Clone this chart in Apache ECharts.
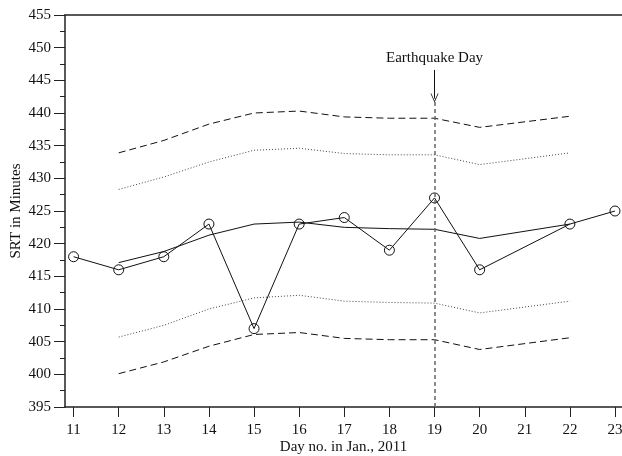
<!DOCTYPE html>
<html>
<head>
<meta charset="utf-8">
<script src="https://cdn.jsdelivr.net/npm/echarts@6/dist/echarts.min.js"></script>
<style>html,body{margin:0;padding:0;background:#fff}#c{width:622px;height:456px}</style>
</head>
<body>
<div id="c"></div>
<script>
var days = [11, 12, 13, 14, 15, 16, 17, 18, 19, 20, 22, 23];
var srt = [418, 416, 418, 423, 407, 423, 424, 419, 427, 416, 423, 425];
var bandDays = [12, 13, 14, 15, 16, 17, 18, 19, 20, 22];
var meanLine = [417.1, 418.8, 421.3, 423.0, 423.3, 422.5, 422.3, 422.2, 420.8, 423.0];
var upperDotted = [428.3, 430.2, 432.5, 434.3, 434.6, 433.8, 433.6, 433.6, 432.1, 433.9];
var lowerDotted = [405.7, 407.5, 410.0, 411.7, 412.1, 411.2, 411.0, 410.9, 409.4, 411.2];
var upperDashed = [433.9, 435.8, 438.3, 440.0, 440.3, 439.4, 439.2, 439.2, 437.8, 439.5];
var lowerDashed = [400.1, 401.9, 404.3, 406.1, 406.4, 405.5, 405.3, 405.3, 403.8, 405.6];
var xTicks = [11, 12, 13, 14, 15, 16, 17, 18, 19, 20, 21, 22, 23];
var quakeDay = 19;
var quakeLabel = 'Earthquake Day';

function pairs(xs, ys) { return xs.map(function (x, i) { return [x, ys[i]]; }); }

var font = 'Liberation Serif';
var chart = echarts.init(document.getElementById('c'), null, {renderer: 'canvas'});
chart.setOption({
  animation: false,
  backgroundColor: '#fff',
  grid: {left: 65, right: 0, top: 15, bottom: 49, outerBoundsMode: 'none', containLabel: false, show: false},
  xAxis: [{
    type: 'value', min: 10.81, max: 23.155,
    name: 'Day no. in Jan., 2011', nameLocation: 'middle', nameGap: 33, nameMoveOverlap: false,
    nameTextStyle: {fontFamily: font, fontSize: 15, color: '#111'},
    axisLine: {show: true, lineStyle: {color: '#222', width: 1.5}},
    axisTick: {show: true, length: 10, customValues: xTicks, lineStyle: {color: '#222', width: 1}},
    axisLabel: {customValues: xTicks, margin: 16, fontFamily: font, fontSize: 15, color: '#111'},
    splitLine: {show: false}
  }, {
    type: 'value', position: 'top', min: 10.81, max: 23.155,
    axisLine: {show: true, lineStyle: {color: '#222', width: 1.5}},
    axisTick: {show: false}, axisLabel: {show: false}, splitLine: {show: false}
  }],
  yAxis: {
    type: 'value', min: 395, max: 455, interval: 5,
    name: 'SRT in Minutes', nameLocation: 'middle', nameGap: 41, nameMoveOverlap: false,
    nameTextStyle: {fontFamily: font, fontSize: 15, color: '#111'},
    axisLine: {show: true, lineStyle: {color: '#222', width: 1.5}},
    axisTick: {show: true, length: 11, lineStyle: {color: '#222', width: 1}},
    minorTick: {show: true, splitNumber: 2, length: 5, lineStyle: {color: '#222', width: 1}},
    axisLabel: {margin: 14, fontFamily: font, fontSize: 15, color: '#111'},
    splitLine: {show: false}
  },
  series: [
    {type: 'line', data: pairs(bandDays, upperDashed), symbol: 'none', lineStyle: {color: '#111', width: 1, type: [7, 4]}, z: 2},
    {type: 'line', data: pairs(bandDays, lowerDashed), symbol: 'none', lineStyle: {color: '#111', width: 1, type: [7, 4]}, z: 2},
    {type: 'line', data: pairs(bandDays, upperDotted), symbol: 'none', lineStyle: {color: '#444', width: 1, type: [1, 2]}, z: 2},
    {type: 'line', data: pairs(bandDays, lowerDotted), symbol: 'none', lineStyle: {color: '#444', width: 1, type: [1, 2]}, z: 2},
    {type: 'line', data: pairs(bandDays, meanLine), symbol: 'none', lineStyle: {color: '#111', width: 1}, z: 3},
    {
      type: 'line', data: pairs(days, srt), symbol: 'circle', symbolSize: 10,
      itemStyle: {color: 'rgba(0,0,0,0)', borderColor: '#111', borderWidth: 1},
      lineStyle: {color: '#111', width: 1}, z: 4,
      markLine: {
        silent: true, symbol: ['none', 'none'], animation: false,
        label: {show: false},
        data: [
          [{coord: [quakeDay, 395], lineStyle: {color: '#666', width: 1.5, type: [4, 3]}}, {coord: [quakeDay, 442.3]}],
          [{coord: [quakeDay, 446.6], symbol: 'none', lineStyle: {color: '#111', width: 1, type: 'solid'}},
           {coord: [quakeDay, 442.3], symbol: 'path://M0,10 L5,0 L10,10 L9,10 L5,2 L1,10 Z', symbolSize: [8, 9]}]
        ]
      },
      markPoint: {
        silent: true, symbol: 'circle', symbolSize: 0,
        data: [{coord: [quakeDay, 448.4], value: quakeLabel}],
        label: {show: true, position: 'inside', formatter: quakeLabel, fontFamily: font, fontSize: 15, color: '#111'}
      }
    }
  ]
});
</script>
</body>
</html>
